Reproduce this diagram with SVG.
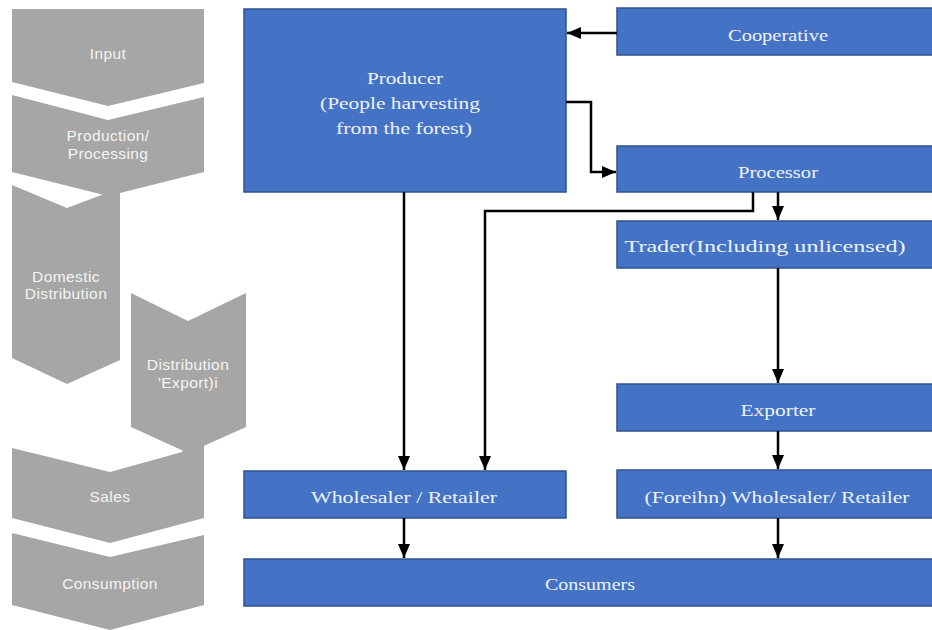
<svg xmlns="http://www.w3.org/2000/svg" width="932" height="630" viewBox="0 0 932 630">
  <style>
    .stage { fill: #a6a6a6; }
    .stage-label { font-family: "Liberation Sans", Arial, sans-serif; font-size: 15.5px; fill: #f4f4f4; text-anchor: middle; letter-spacing: 0.4px; }
    .box { fill: #4472c4; stroke: #2f528f; stroke-width: 1.5; }
    .box-label { font-family: "Liberation Serif", "Times New Roman", serif; font-size: 17px; fill: #eef2fb; text-anchor: middle; }
    .link { fill: none; stroke: #000; stroke-width: 2.5; marker-end: url(#arrow); }
  </style>
  <defs>
    <marker id="arrow" markerUnits="userSpaceOnUse" markerWidth="15" markerHeight="15" viewBox="0 0 15 15" refX="14" refY="7.5" orient="auto">
      <path d="M0,1.5 L14,7.5 L0,13.5 Z" fill="#000"/>
    </marker>
  </defs>
  <rect width="932" height="630" fill="#ffffff"/>

  <!-- value-chain stages (left column) -->
  <g id="stage-input">
    <polygon class="stage" points="12,9 204,9 204,83 108,106 12,82"/>
    <text class="stage-label" x="108" y="59">Input</text>
  </g>
  <g id="stage-production">
    <polygon class="stage" points="12,95 108,120 204,97 204,172 108,196 12,172"/>
    <text class="stage-label" x="108" y="141">Production/</text>
    <text class="stage-label" x="108" y="159">Processing</text>
  </g>
  <g id="stage-domestic">
    <polygon class="stage" points="12,185 67,208 120,188 120,360 67,384 12,358"/>
    <text class="stage-label" x="66" y="282">Domestic</text>
    <text class="stage-label" x="66" y="299">Distribution</text>
  </g>
  <g id="stage-export">
    <polygon class="stage" points="131,293 188,321 246,293 246,427 188,453 131,427"/>
    <text class="stage-label" x="188" y="370">Distribution</text>
    <text class="stage-label" x="188" y="388">'Export)i</text>
  </g>
  <g id="stage-sales">
    <polygon class="stage" points="12,448 110,472 182,452 188,440 204,440 204,518 110,543 12,518"/>
    <text class="stage-label" x="110" y="502">Sales</text>
  </g>
  <g id="stage-consumption">
    <polygon class="stage" points="12,533 110,557 204,535 204,605 110,630 12,605"/>
    <text class="stage-label" x="110" y="589">Consumption</text>
  </g>

  <!-- actors -->
  <g id="producer">
    <rect class="box" x="244" y="9" width="322" height="183"/>
    <text class="box-label" x="405" y="84" textLength="76" lengthAdjust="spacingAndGlyphs">Producer</text>
    <text class="box-label" x="400" y="109" textLength="160" lengthAdjust="spacingAndGlyphs">(People harvesting</text>
    <text class="box-label" x="404" y="134" textLength="136" lengthAdjust="spacingAndGlyphs">from the forest)</text>
  </g>
  <g id="cooperative">
    <rect class="box" x="617" y="8" width="316" height="47"/>
    <text class="box-label" x="778" y="41" textLength="100" lengthAdjust="spacingAndGlyphs">Cooperative</text>
  </g>
  <g id="processor">
    <rect class="box" x="617" y="146" width="316" height="46"/>
    <text class="box-label" x="778" y="178" textLength="80" lengthAdjust="spacingAndGlyphs">Processor</text>
  </g>
  <g id="trader">
    <rect class="box" x="617" y="221" width="316" height="47"/>
    <text class="box-label" x="765" y="252" textLength="281" lengthAdjust="spacingAndGlyphs">Trader(Including  unlicensed)</text>
  </g>
  <g id="exporter">
    <rect class="box" x="617" y="384" width="316" height="47"/>
    <text class="box-label" x="778" y="416" textLength="75" lengthAdjust="spacingAndGlyphs">Exporter</text>
  </g>
  <g id="foreign-wholesaler">
    <rect class="box" x="617" y="470" width="316" height="48"/>
    <text class="box-label" x="777" y="503" textLength="265" lengthAdjust="spacingAndGlyphs">(Foreihn) Wholesaler/  Retailer</text>
  </g>
  <g id="wholesaler">
    <rect class="box" x="244" y="471" width="322" height="47"/>
    <text class="box-label" x="404" y="503" textLength="186" lengthAdjust="spacingAndGlyphs">Wholesaler / Retailer</text>
  </g>
  <g id="consumers">
    <rect class="box" x="244" y="559" width="689" height="47"/>
    <text class="box-label" x="590" y="590" textLength="90" lengthAdjust="spacingAndGlyphs">Consumers</text>
  </g>

  <!-- flows -->
  <g id="connectors">
    <path class="link" d="M617,33 H567"/>
    <path class="link" d="M566,102 H591 V172 H616"/>
    <path class="link" d="M404,192 V470"/>
    <path class="link" d="M753,192 V211 H485 V470"/>
    <path class="link" d="M778,192 V220"/>
    <path class="link" d="M778,268 V383"/>
    <path class="link" d="M778,431 V469"/>
    <path class="link" d="M404,518 V558"/>
    <path class="link" d="M778,518 V558"/>
  </g>
</svg>
